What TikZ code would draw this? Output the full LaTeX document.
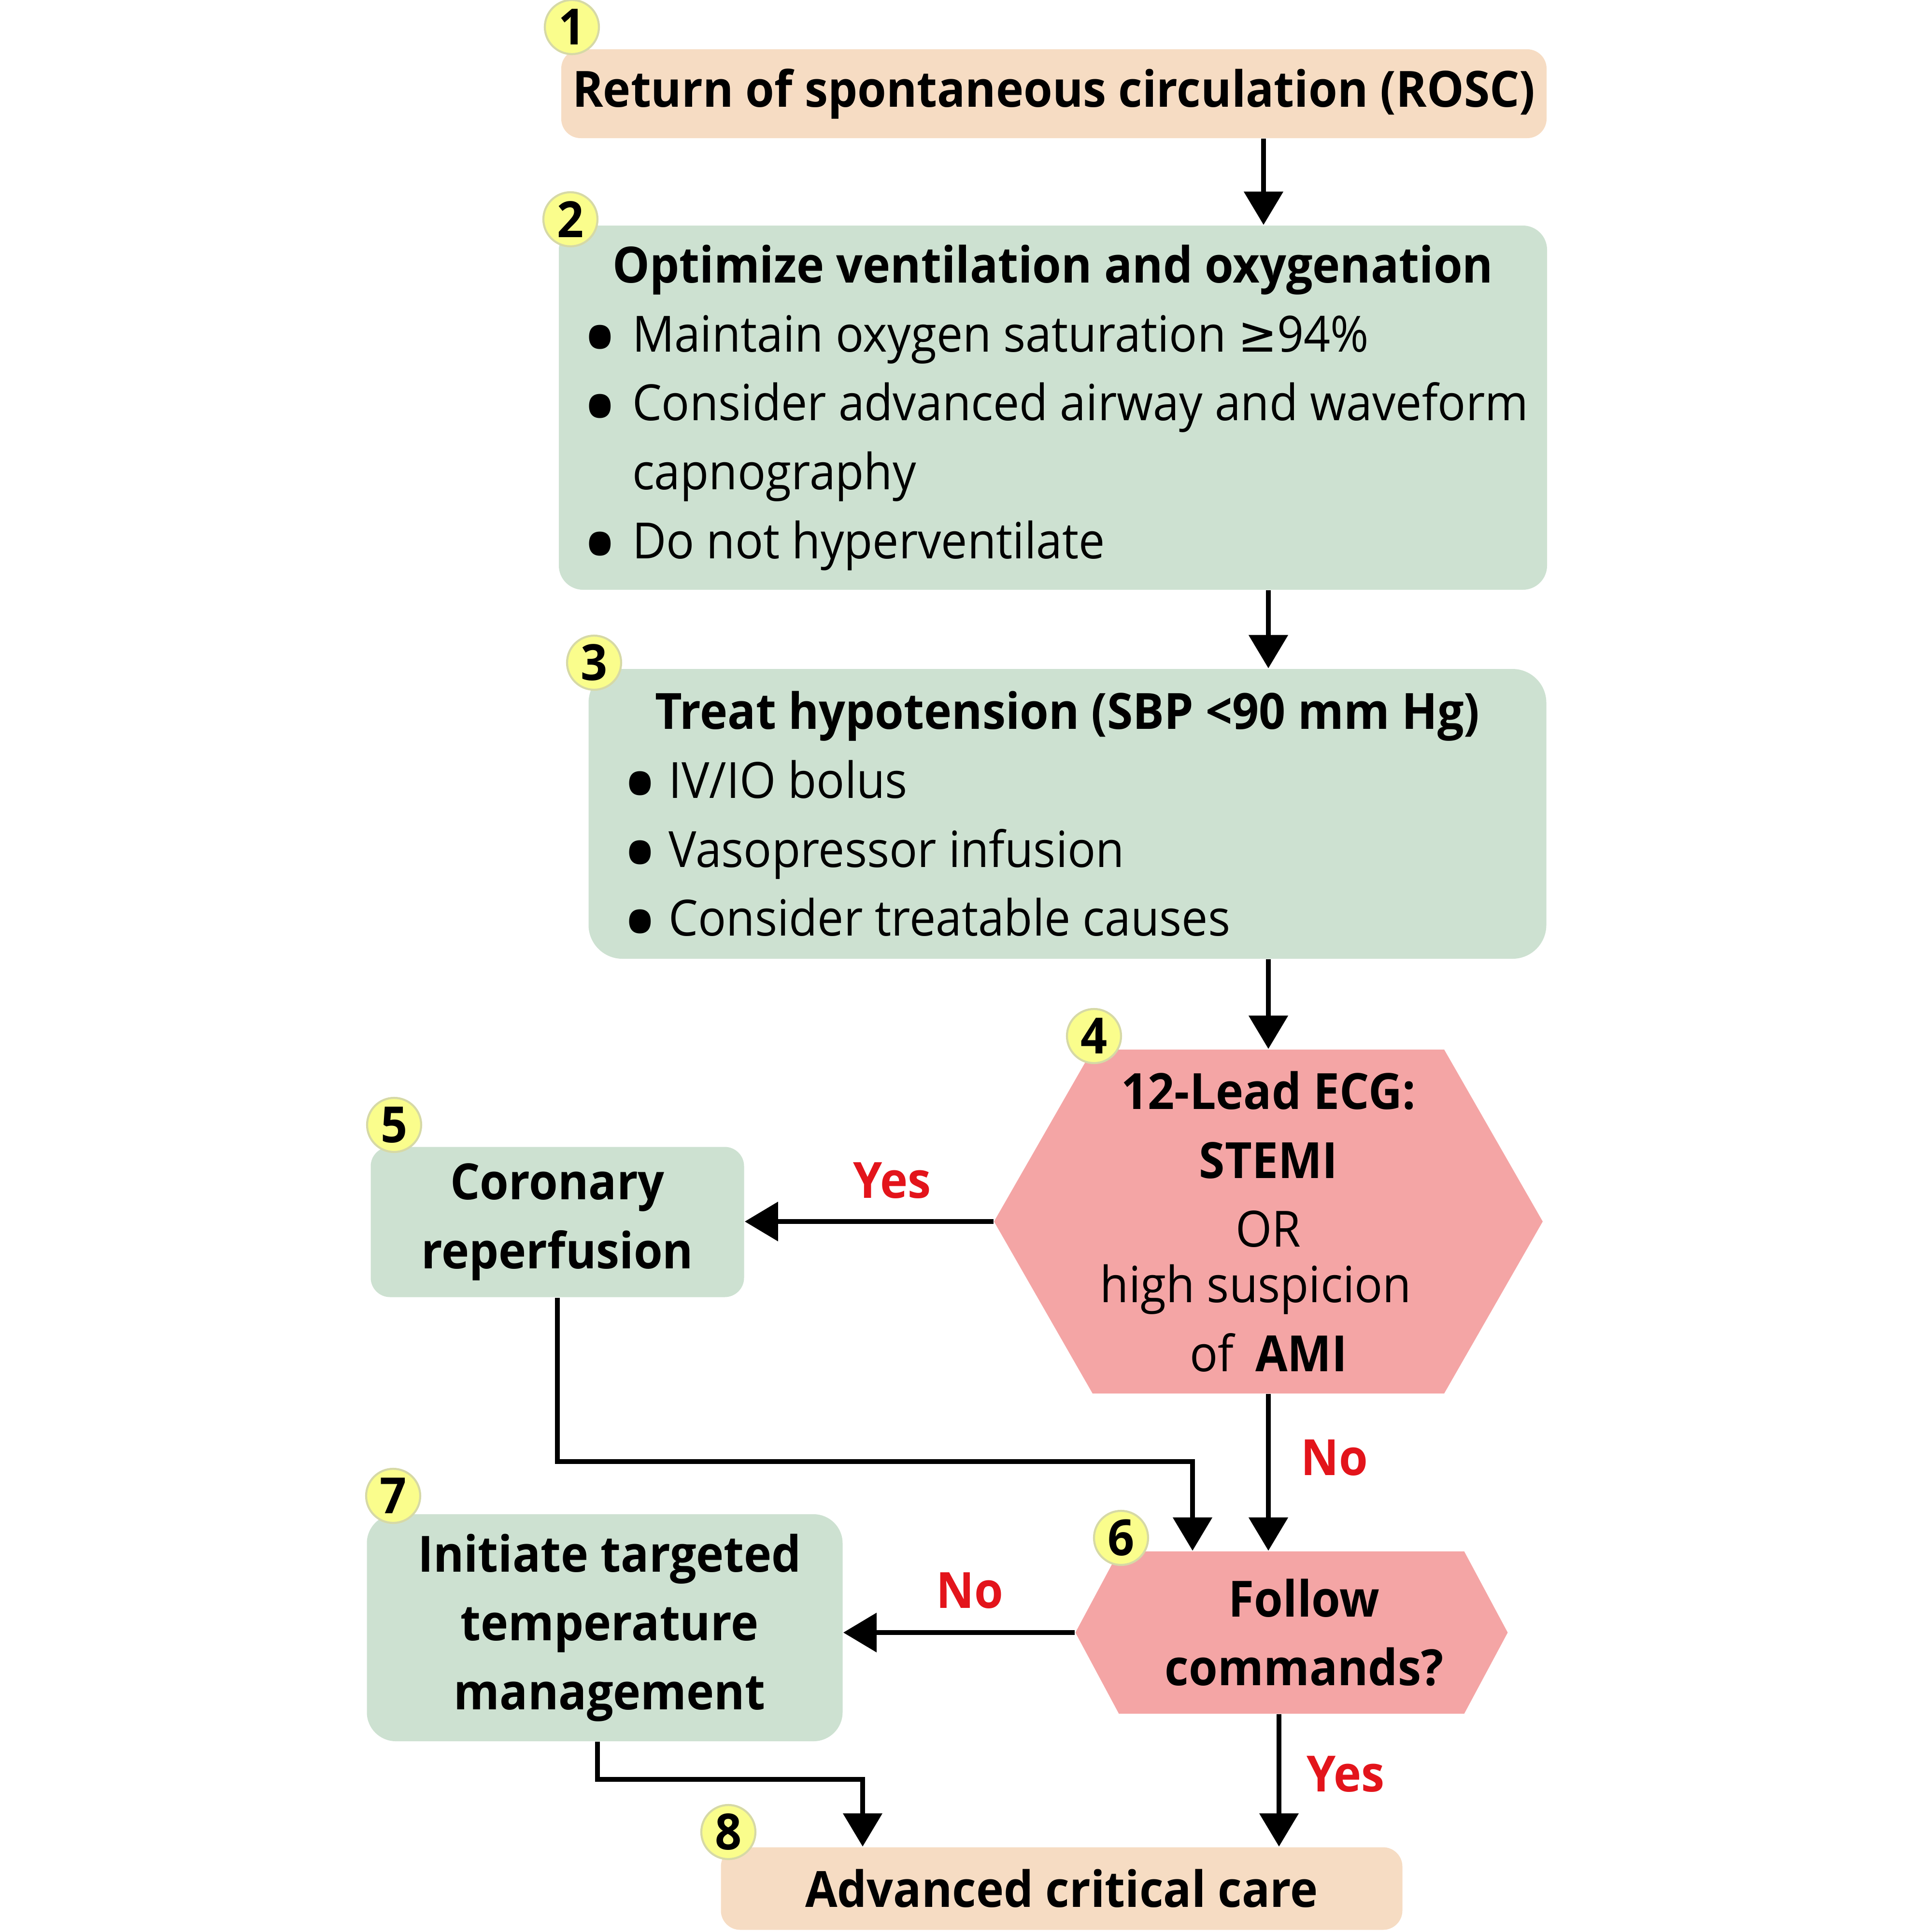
\documentclass[tikz,border=0pt]{standalone}
\usepackage{fontspec}
\usepackage{graphicx}
\setmainfont{Open Sans}[FakeStretch=0.935]
\newfontfamily\symfont{DejaVu Sans}[FakeStretch=0.935]
\usetikzlibrary{arrows.meta}

\definecolor{peachfill}{HTML}{F6DCC3}
\definecolor{sagefill}{HTML}{CDE1D1}
\definecolor{rosefill}{HTML}{F4A5A5}
\definecolor{badgefill}{HTML}{FAFD8C}
\definecolor{badgeline}{HTML}{D6D9A6}
\definecolor{answerred}{HTML}{E3141B}

% bullet lines for the two list boxes
\newcommand{\bigdot}{\smash{\raisebox{-0.44em}{\scalebox{2.14}[2.0]{\textbullet}}}}
\newcommand{\bulA}[1]{\makebox[0.76cm][l]{\hspace{0.23cm}\bigdot}#1}
\newcommand{\bulB}[1]{\makebox[0.83cm][l]{\hspace{0.34cm}\bigdot}#1}

\begin{document}
\begin{tikzpicture}[
        every node/.style={font=\fontsize{14.7}{20.3}\selectfont},
        box/.style={rounded corners=0.2cm, inner sep=0pt, align=center},
        peachbox/.style={box, fill=peachfill},
        sagebox/.style={box, fill=sagefill},
        hexbox/.style={inner sep=0pt, align=center, path picture={
            \fill[rosefill] (path picture bounding box.west)
                -- ([xshift=#1]path picture bounding box.north west)
                -- ([xshift=-#1]path picture bounding box.north east)
                -- (path picture bounding box.east)
                -- ([xshift=-#1]path picture bounding box.south east)
                -- ([xshift=#1]path picture bounding box.south west) -- cycle;}},
        badge/.style={circle, fill=badgefill, draw=badgeline, line width=0.6pt,
            minimum size=0.56cm, inner sep=0pt, font=\fontsize{14.7}{16}\selectfont\bfseries},
        flow/.style={line width=1.45pt, -{Triangle[length=9.8pt, width=11.3pt]}},
        answer/.style={text=answerred, font=\fontsize{14.7}{16}\selectfont\bfseries}
    ]
        \useasboundingbox (0,0) rectangle (20,-20);

        % Main column
        \node[peachbox, minimum width=10.2cm, minimum height=0.92cm] (b1) at (10.91,-0.97)
            {\bfseries Return of spontaneous circulation (ROSC)};
        \node[sagebox, align=left, rounded corners=0.25cm, minimum width=10.23cm, minimum height=3.77cm] (b2) at (10.9,-4.22)
            {\makebox[10.23cm]{\bfseries Optimize ventilation and oxygenation}\\
             \bulA{Maintain oxygen saturation {\symfont ≥}94\%}\\
             \bulA{Consider advanced airway and waveform}\\
             \makebox[0.76cm]{}capnography\\
             \bulA{Do not hyperventilate}};
        \node[sagebox, align=left, rounded corners=0.35cm, minimum width=9.915cm, minimum height=3cm] (b3) at (11.05,-8.425)
            {\makebox[9.915cm]{\bfseries Treat hypotension (SBP <90 mm Hg)}\\
             \bulB{IV/IO bolus}\\
             \bulB{Vasopressor infusion}\\
             \bulB{Consider treatable causes}};

        % Decisions
        \node[hexbox=1.02cm, minimum width=5.68cm, minimum height=3.56cm] (h4) at (13.13,-12.645)
            {\textbf{12-Lead ECG:}\\ \textbf{STEMI}\\ OR\\[-4pt] \mbox{high suspicion\hspace{0.26cm}}\\ of\hspace{0.1cm} \textbf{AMI}};
        \node[hexbox=0.45cm, minimum width=4.475cm, minimum height=1.68cm, font=\fontsize{14.7}{20.3}\selectfont\bfseries] (h6) at (13.37,-16.9)
            {\hspace*{0.26cm}Follow\\ \hspace*{0.26cm}commands?};

        % Side boxes
        \node[sagebox, minimum width=3.865cm, minimum height=1.555cm, font=\fontsize{14.7}{20.3}\selectfont\bfseries] (b5) at (5.77,-12.65)
            {Coronary\\ reperfusion};
        \node[sagebox, rounded corners=0.3cm, minimum width=4.925cm, minimum height=2.35cm, font=\fontsize{14.7}{20.3}\selectfont\bfseries] (b7) at (6.26,-16.85)
            {\hspace*{0.1cm}Initiate targeted\\ \hspace*{0.1cm}temperature\\ \hspace*{0.1cm}management};
        \node[peachbox, minimum width=7.055cm, minimum height=0.855cm] (b8) at (10.99,-19.55)
            {\bfseries Advanced critical care};

        % Connectors
        \coordinate (j56) at (12.345,-15.13);
        \coordinate (j78) at (8.93,-18.42);
        \draw[flow] ([xshift=-0.05cm]b1.south -| h4.north) -- ([xshift=-0.05cm]b2.north -| h4.north);
        \draw[flow] (b2.south -| h4.north) -- (b3.north -| h4.north);
        \draw[flow] (b3.south -| h4.north) -- (h4.north);
        \draw[flow] (h4.west) -- (h4.west -| b5.east);
        \draw[flow] (h4.south) -- (h4.south |- h6.north);
        \draw[flow] (b5.south) |- (j56) -- (j56 |- h6.north);
        \draw[flow] (h6.west) -- (h6.west -| b7.east);
        \draw[flow] ([xshift=-0.13cm]h6.south) -- ([xshift=-0.13cm]h6.south |- b8.north);
        \draw[flow] ([xshift=-0.075cm]b7.south) |- (j78) -- (j78 |- b8.north);

        % Answers
        \node[answer] (yes4) at (9.235,-12.22) {Yes};
        \node[answer] (no4) at (13.815,-15.09) {No};
        \node[answer] (no6) at (10.04,-16.465) {No};
        \node[answer] (yes6) at (13.93,-18.365) {Yes};

        % Step numbers
        \foreach \n/\bx/\by in {1/5.92/-0.28, 2/5.905/-2.27, 3/6.15/-6.86, 4/11.325/-10.725,
                5/4.08/-11.645, 6/11.605/-15.92, 7/4.07/-15.485, 8/7.54/-18.965} {
            \node[badge] (badge\n) at (\bx,\by) {\n};
        }
    \end{tikzpicture}
\end{document}
